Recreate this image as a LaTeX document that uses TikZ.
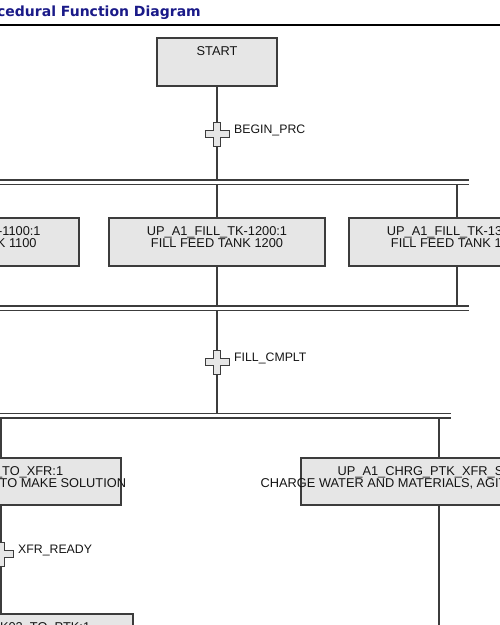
\documentclass[tikz,border=0pt]{standalone}
\usepackage{fontspec}
\setmainfont{Liberation Sans}
\newfontfamily\titlefont{DejaVu Sans}
\usetikzlibrary{positioning,calc}
\definecolor{Navy}{HTML}{1A1A88}
\definecolor{BoxFill}{HTML}{E6E6E6}
\definecolor{Edge}{HTML}{3C3C3C}
\definecolor{Ink}{HTML}{141414}

\tikzset{
  stepbox/.style={draw=Edge,fill=BoxFill,line width=1.3pt,inner sep=0pt,minimum height=48pt},
  steptext/.style={text=Ink,align=center,inner sep=0pt,font=\fontsize{12.8}{12}\selectfont},
  trlabel/.style={text=Ink,inner sep=0pt,anchor=west,font=\fontsize{12.3}{12}\selectfont},
  link/.style={draw=Edge,line width=1.2pt},
  barline/.style={draw=Edge,line width=1.2pt},
  dbar/.style={inner sep=0pt,outer sep=0pt,minimum height=4.5pt,
    append after command={(\tikzlastnode.north west) edge[barline] (\tikzlastnode.north east)
      (\tikzlastnode.south west) edge[barline] (\tikzlastnode.south east)}},
}
% plus-shaped transition mark
\newcommand\trcross[1]{\draw[draw=Edge,fill=BoxFill,line width=1pt,shift={(#1)}]
  (-3.5,-12) -- (3.5,-12) -- (3.5,-3.5) -- (12,-3.5) -- (12,3.5) -- (3.5,3.5) -- (3.5,12)
  -- (-3.5,12) -- (-3.5,3.5) -- (-12,3.5) -- (-12,-3.5) -- (-3.5,-3.5) -- cycle;}

\begin{document}
\begin{tikzpicture}[x=1pt,y=-1pt]
  \useasboundingbox (0,0) rectangle (500,625);
  \clip (0,0) rectangle (500,625);

  \node[font=\titlefont\bfseries\fontsize{14}{16}\selectfont,text=Navy,inner sep=0pt,anchor=base east] (title) at (201,16.5) {Procedural Function Diagram};
  \draw[line width=1.3pt] (0,25) -- (500,25);

  % steps
  \node[stepbox,minimum width=120pt] (start) at (217,62) {};
  \node[stepbox,minimum width=216pt] (fill1) at (-29,242) {};
  \node[stepbox,minimum width=216pt] (fill2) at (217,242) {};
  \node[stepbox,minimum width=216pt] (fill3) at (457,242) {};
  \node[stepbox,minimum width=240pt,minimum height=47pt] (mix) at (1,481.5) {};
  \node[stepbox,minimum width=276pt,minimum height=47pt] (chrg) at (439,481.5) {};
  \node[stepbox,minimum width=264pt] (xfr) at (1,638) {};

  \foreach \s/\t in {start/START,
      fill1/{UP\_A1\_FILL\_TK-1100:1\\FILL FEED TANK 1100},
      fill2/{UP\_A1\_FILL\_TK-1200:1\\FILL FEED TANK 1200},
      fill3/{UP\_A1\_FILL\_TK-1300:1\\FILL FEED TANK 1300},
      mix/{UP\_A1\_S\_TO\_XFR:1\\AGITATE AND HEAT TO MAKE SOLUTION},
      chrg/{UP\_A1\_CHRG\_PTK\_XFR\_SOLN:1\\CHARGE WATER AND MATERIALS, AGITATE TO DISSOLVE},
      xfr/{UP\_A1\_XFR\_TK02\_TO\_PTK:1}}
    {\node[steptext,below=9pt of \s.north] (\s txt) {\t};}

  % parallel bars
  \node[dbar,minimum width=669pt] (bar1) at (134.5,182.25) {};
  \node[dbar,minimum width=669pt] (bar2) at (134.5,308.25) {};
  \node[dbar,minimum width=651pt] (bar3) at (125.5,415.75) {};

  % transitions
  \coordinate (t1) at (217,134);
  \coordinate (t2) at (217,362);
  \coordinate (t3) at (1,554);
  \coordinate (chrgout) at (439,700);

  \draw[link] (start.south) -- (start.south |- bar1.north);
  \foreach \f in {fill1,fill2,fill3}{
    \draw[link] (\f.north |- bar1.south) -- (\f.north);
    \draw[link] (\f.south) -- (\f.south |- bar2.north);
  }
  \draw[link] (t2 |- bar2.south) -- (t2 |- bar3.north);
  \foreach \f in {mix,chrg}{\draw[link] (\f.north |- bar3.south) -- (\f.north);}
  \draw[link] (mix.south) -- (xfr.north);
  \draw[link] (chrg.south) -- (chrgout);

  \foreach \t in {t1,t2,t3}{\trcross{\t}}
  \node[trlabel,right=17pt of t1,yshift=4pt] (t1lbl) {BEGIN\_PRC};
  \node[trlabel,right=17pt of t2,yshift=4pt] (t2lbl) {FILL\_CMPLT};
  \node[trlabel,right=17pt of t3,yshift=4pt] (t3lbl) {XFR\_READY};
\end{tikzpicture}
\end{document}
